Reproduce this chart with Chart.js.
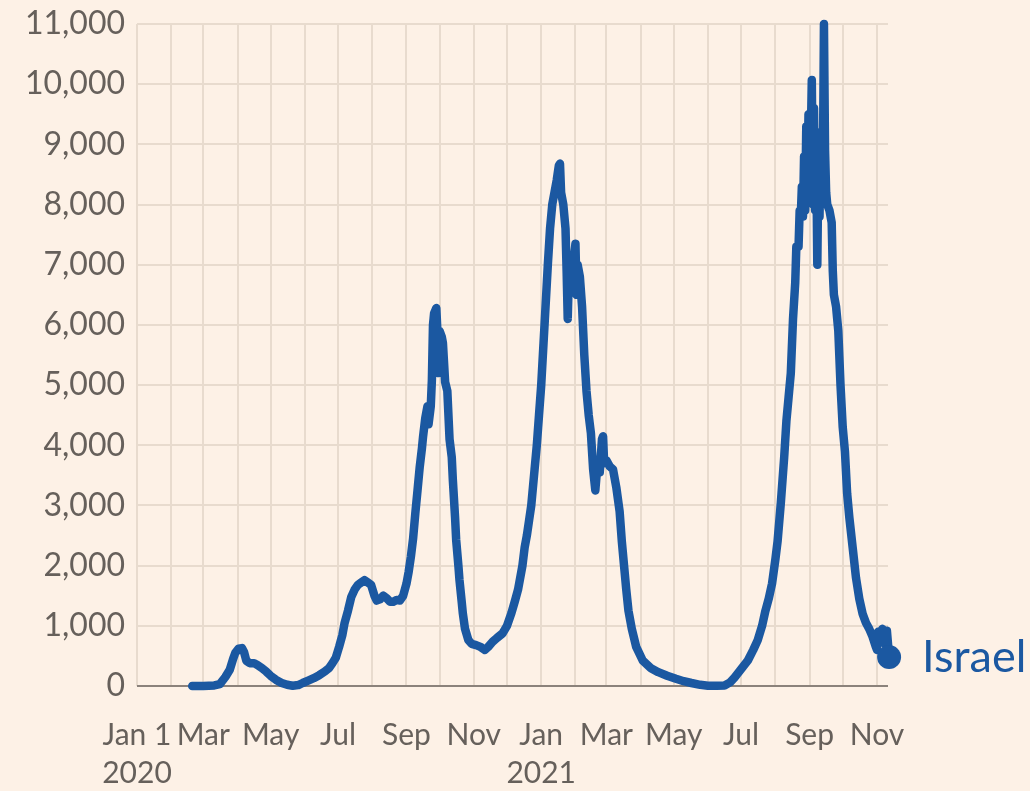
<!DOCTYPE html>
<html>
<head>
<meta charset="utf-8">
<script src="https://cdn.jsdelivr.net/npm/chart.js@4/dist/chart.umd.min.js"></script>
<style>
  html, body { margin: 0; padding: 0; background: #fdf1e6; }
  #wrap { width: 1030px; height: 791px; position: relative; }
</style>
</head>
<body>
<div id="wrap"><canvas id="casesChart"></canvas></div>
<script>
// days counted from 1 Jan 2020
const monthStarts = [0, 31, 60, 91, 121, 152, 182, 213, 244, 274, 305, 335,
                     366, 397, 425, 456, 486, 517, 547, 578, 609, 639, 670];
const monthLabels = [['Jan 1', '2020'], '', 'Mar', '', 'May', '', 'Jul', '', 'Sep', '', 'Nov', '',
                     ['Jan', '2021'], '', 'Mar', '', 'May', '', 'Jul', '', 'Sep', '', 'Nov'];
const yTicks = [0, 1000, 2000, 3000, 4000, 5000, 6000, 7000, 8000, 9000, 10000, 11000];

// 2020
const days2020 = [50, 60, 70, 75, 80, 84, 87, 89, 92, 95, 97, 99, 102, 106, 109, 113, 117, 121, 126, 131,
  136, 141, 146, 150, 155, 160, 165, 170, 174, 177, 180, 183, 186, 188, 191, 194, 197, 200, 203, 206,
  209, 212, 215, 217, 220, 223, 226, 229, 232, 235, 238, 241, 244, 246, 248, 250, 252, 254, 256, 258,
  259, 261, 263, 264, 266, 267, 268, 269, 271, 272, 273, 274, 276, 277, 279, 281, 283, 285, 286, 288,
  289, 291, 292, 294, 295, 297, 300, 303, 307, 311, 315, 318, 322, 326, 331, 335, 339, 342, 345, 349,
  351, 353, 355, 357, 360, 362, 364];
const cases2020 = [0, 2, 10, 30, 150, 270, 450, 550, 620, 630, 560, 420, 380, 380, 350, 300, 240, 170, 100, 50,
  20, 5, 15, 50, 90, 130, 180, 240, 300, 380, 470, 650, 850, 1050, 1250, 1480, 1600, 1680, 1720, 1760,
  1720, 1680, 1500, 1420, 1440, 1500, 1460, 1400, 1400, 1430, 1420, 1500, 1700, 1900, 2150, 2450, 2870, 3250, 3640, 3950,
  4140, 4450, 4650, 4350, 4650, 5080, 6000, 6190, 6280, 5900, 5200, 5900, 5800, 5700, 5050, 4900, 4100, 3800, 3420, 2800,
  2425, 2000, 1760, 1400, 1210, 950, 765, 700, 680, 650, 600, 650, 735, 800, 875, 1000, 1210, 1400, 1600, 2000,
  2300, 2500, 2750, 3000, 3600, 4000, 4500];

// 2021
const days2021 = [366, 369, 372, 374, 376, 378, 380, 382, 383, 384, 386, 388, 389, 390, 391, 393, 395, 397, 398, 399,
  401, 403, 405, 407, 409, 411, 413, 415, 417, 419, 421, 422, 423, 425, 428, 431, 434, 437, 439, 441,
  443, 445, 448, 452, 458, 465, 472, 480, 488, 495, 502, 510, 517, 525, 532, 537, 541, 547, 553, 558,
  562, 566, 569, 572, 575, 578, 580, 583, 586, 588, 590, 592, 594, 596, 597, 599, 600, 601, 602, 603,
  604, 605, 606, 607, 608, 609, 610, 611, 612, 613, 614, 615, 616, 617, 618, 619, 620, 621, 622, 623,
  624, 625, 627, 629, 630, 631, 633, 635, 637, 639, 641, 643, 645, 648, 651, 654, 657, 660, 663, 666,
  669, 670, 671, 673, 675, 677, 679, 681];
const cases2021 = [5000, 6000, 7000, 7600, 8000, 8200, 8400, 8650, 8680, 8200, 8000, 7600, 6900, 6100, 6800, 6600, 7000, 7350, 6500, 7000,
  6800, 6300, 5500, 4900, 4500, 4200, 3600, 3250, 3700, 3550, 4100, 4150, 3700, 3750, 3650, 3600, 3300, 2900, 2400, 2000,
  1600, 1250, 950, 650, 420, 300, 230, 170, 120, 80, 50, 20, 5, 5, 10, 60, 140, 280, 420, 600,
  760, 1000, 1250, 1450, 1700, 2100, 2400, 3050, 3800, 4400, 4800, 5200, 6100, 6700, 7300, 7300, 7900, 7800, 8300, 7800,
  8800, 7900, 9300, 8100, 9500, 8200, 9000, 10070, 8000, 9600, 7900, 8900, 7000, 8700, 7800, 9200, 8100, 8500, 11000, 8900,
  8200, 8000, 7900, 7700, 6900, 6500, 6300, 5900, 5000, 4300, 3900, 3200, 2800, 2300, 1800, 1450, 1200, 1050, 950, 820,
  650, 600, 900, 800, 950, 700, 920, 480];

const allDays = days2020.concat(days2021);
const allCases = cases2020.concat(cases2021);
const points = allDays.map((d, i) => ({ x: d, y: allCases[i] }));

const lineBlue = '#1b58a1';
const gridColour = '#e8dbce';
const textGrey = '#66605b';

// label next to the end dot
const endLabel = {
    id: 'endLabel',
    afterDatasetsDraw(chart) {
        const meta = chart.getDatasetMeta(0);
        const last = meta.data[meta.data.length - 1];
        const ctx = chart.ctx;
        ctx.save();
        ctx.fillStyle = lineBlue;
        ctx.font = '45px Lato';
        ctx.textAlign = 'left';
        ctx.textBaseline = 'middle';
        ctx.fillText('Israel', last.x + 33, last.y);
        ctx.restore();
    }
};

new Chart(document.getElementById('casesChart'), {
    type: 'line',
    data: {
        datasets: [{
            label: 'Israel',
            data: points,
            borderColor: lineBlue,
            backgroundColor: lineBlue,
            borderWidth: 8.5,
            borderJoinStyle: 'round',
            borderCapStyle: 'round',
            tension: 0,
            clip: false,
            pointRadius: ctx => ctx.dataIndex === points.length - 1 ? 12 : 0,
            pointBorderWidth: 0
        }]
    },
    options: {
        responsive: true,
        maintainAspectRatio: false,
        animation: false,
        layout: { padding: { top: 24, right: 142, bottom: 0, left: 0 } },
        plugins: {
            legend: { display: false },
            tooltip: { enabled: false }
        },
        scales: {
            x: {
                type: 'linear',
                min: 0,
                max: 680,
                afterBuildTicks: scale => { scale.ticks = monthStarts.map(v => ({ value: v })); },
                afterFit: scale => { scale.height = 105; },
                border: { display: false },
                grid: { color: gridColour, lineWidth: 2, drawTicks: false },
                ticks: {
                    autoSkip: false,
                    maxRotation: 0,
                    padding: 31,
                    color: textGrey,
                    font: { family: 'Lato', size: 30, lineHeight: 1.25 },
                    callback: (value, index) => monthLabels[index]
                }
            },
            y: {
                min: 0,
                max: 11000,
                afterBuildTicks: scale => { scale.ticks = yTicks.map(v => ({ value: v })); },
                afterFit: scale => {
                    scale.width = 137;
                    scale.paddingTop = 0;
                    scale.paddingBottom = 0;
                },
                border: { display: false },
                grid: {
                    color: ctx => ctx.tick && ctx.tick.value === 0 ? '#8b827b' : gridColour,
                    lineWidth: 2,
                    drawTicks: false
                },
                ticks: {
                    padding: 12,
                    color: textGrey,
                    font: { family: 'Lato', size: 32 },
                    callback: value => value.toLocaleString('en-US')
                }
            }
        }
    },
    plugins: [endLabel]
});
</script>
</body>
</html>
